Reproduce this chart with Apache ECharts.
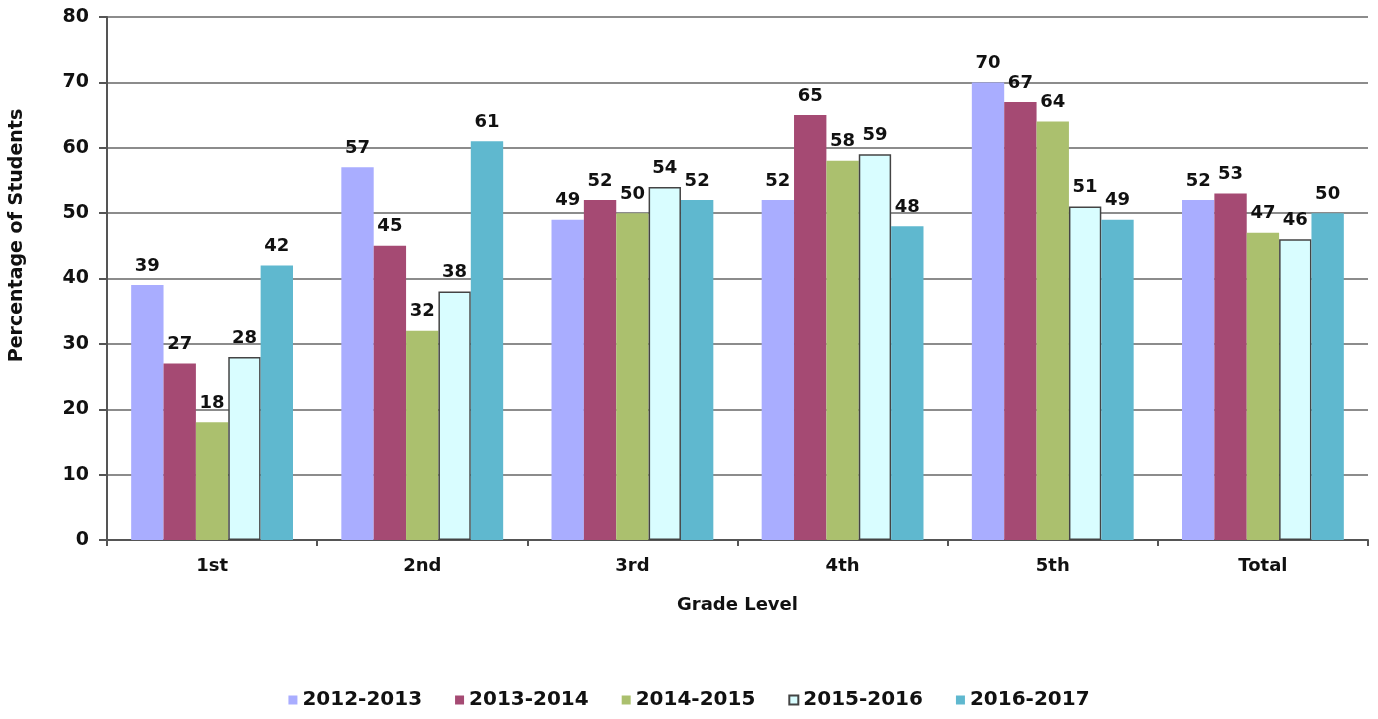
<!DOCTYPE html>
<html><head><meta charset="utf-8">
<script src="https://cdn.jsdelivr.net/npm/echarts@6/dist/echarts.min.js"></script>
<style>html,body{margin:0;padding:0;background:#fff}#c{width:1378px;height:719px}</style>
</head><body><div id="c"></div>
<script>
const categories = ['1st','2nd','3rd','4th','5th','Total'];
const seriesNames = ['2012-2013','2013-2014','2014-2015','2015-2016','2016-2017'];
const s2012 = [39,57,49,52,70,52];
const s2013 = [27,45,52,65,67,53];
const s2014 = [18,32,50,58,64,47];
const s2015 = [28,38,54,59,51,46];
const s2016 = [42,61,52,48,49,50];
const yTicks = [0,10,20,30,40,50,60,70,80];
const colors = ['#a9adff','#a54a73','#abc06e','#d9fdff','#5fb8cf'];
const allData = [s2012,s2013,s2014,s2015,s2016];
const font = 'DejaVu Sans, Verdana, sans-serif';
const chart = echarts.init(document.getElementById('c'));
chart.setOption({
  animation:false,
  grid:{left:106,right:10,top:17,bottom:179},
  legend:{bottom:4,left:'center',itemWidth:9,itemHeight:9,itemGap:33,icon:'rect',
    textStyle:{fontFamily:font,fontWeight:'bold',fontSize:20,color:'#111'},
    data:seriesNames},
  xAxis:{type:'category',data:categories,name:'Grade Level',nameLocation:'middle',nameGap:56,
    nameTextStyle:{fontFamily:font,fontWeight:'bold',fontSize:18,color:'#111'},
    axisLine:{lineStyle:{color:'#555',width:2}},
    axisTick:{show:true,length:6,lineStyle:{color:'#555',width:2}},
    axisLabel:{fontFamily:font,fontWeight:'bold',fontSize:18,color:'#111',margin:17}},
  yAxis:{type:'value',min:yTicks[0],max:yTicks[yTicks.length-1],interval:10,
    name:'Percentage of Students',nameLocation:'middle',nameGap:80,
    nameTextStyle:{fontFamily:font,fontWeight:'bold',fontSize:19,color:'#111',padding:[0,0,0,86]},
    axisLine:{show:true,lineStyle:{color:'#555',width:2}},
    axisTick:{show:true,length:8,lineStyle:{color:'#555',width:2}},
    splitLine:{lineStyle:{color:'#666',width:1.5}},
    axisLabel:{fontFamily:font,fontWeight:'bold',fontSize:19,color:'#111',margin:18}},
  series: seriesNames.map((n,i)=>({
    name:n,type:'bar',data:allData[i],barGap:'0%',barCategoryGap:'23%',
    itemStyle:{color:colors[i],borderColor:i===3?'#444':colors[i],borderWidth:i===3?1.5:0},
    label:{show:true,position:'top',distance:10,fontFamily:font,fontWeight:'bold',fontSize:18,color:'#111'}
  }))
});
</script></body></html>
